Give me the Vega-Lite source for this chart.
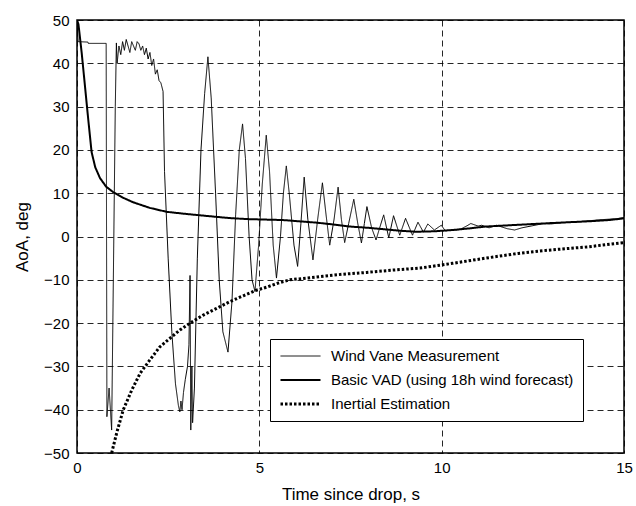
{
  "$schema": "https://vega.github.io/schema/vega-lite/v6.json",
  "width": 547,
  "height": 433,
  "autosize": "none",
  "padding": {"left": 77, "top": 20, "right": 12, "bottom": 53},
  "background": "white",
  "config": {
    "font": "Liberation Sans",
    "view": {"stroke": "black", "strokeWidth": 1.5},
    "axis": {
      "domain": false,
      "ticks": false,
      "grid": true,
      "gridColor": "black",
      "gridDash": [6, 4],
      "gridWidth": 1,
      "gridOpacity": 0.85,
      "labelFont": "Liberation Sans",
      "labelFontSize": 15,
      "labelColor": "black",
      "titleFont": "Liberation Sans",
      "titleFontSize": 17,
      "titleFontWeight": "normal",
      "titleColor": "black"
    },
    "legend": {
      "labelFont": "Liberation Sans",
      "labelFontSize": 15,
      "labelColor": "black",
      "labelLimit": 400
    }
  },
  "datasets": {
    "vane": [
      {"t": 0, "v": 50}, {"t": 0.03, "v": 45}, {"t": 0.3, "v": 44.9}, {"t": 0.31, "v": 44.6}, {"t": 0.8, "v": 44.6},
      {"t": 0.82, "v": -41.6}, {"t": 0.88, "v": -35}, {"t": 0.95, "v": -44.7}, {"t": 1.05, "v": 30}, {"t": 1.08, "v": 44.7},
      {"t": 1.1, "v": 40}, {"t": 1.15, "v": 44}, {"t": 1.2, "v": 42}, {"t": 1.25, "v": 45}, {"t": 1.3, "v": 43},
      {"t": 1.35, "v": 45.5}, {"t": 1.4, "v": 44}, {"t": 1.45, "v": 42.5}, {"t": 1.5, "v": 45}, {"t": 1.55, "v": 44},
      {"t": 1.6, "v": 43}, {"t": 1.65, "v": 45}, {"t": 1.7, "v": 44.5}, {"t": 1.75, "v": 43}, {"t": 1.8, "v": 44},
      {"t": 1.85, "v": 42}, {"t": 1.9, "v": 43.5}, {"t": 1.95, "v": 41}, {"t": 2.0, "v": 42.5}, {"t": 2.05, "v": 39.5},
      {"t": 2.1, "v": 41}, {"t": 2.15, "v": 37.5}, {"t": 2.2, "v": 38.5}, {"t": 2.25, "v": 36}, {"t": 2.3, "v": 35.5},
      {"t": 2.36, "v": 33.5}, {"t": 2.4, "v": 15}, {"t": 2.5, "v": -5}, {"t": 2.6, "v": -22}, {"t": 2.7, "v": -34},
      {"t": 2.78, "v": -39}, {"t": 2.82, "v": -40.5}, {"t": 2.85, "v": -38}, {"t": 2.88, "v": -40}, {"t": 2.92, "v": -36},
      {"t": 2.97, "v": -33}, {"t": 3.03, "v": -30}, {"t": 3.07, "v": -25}, {"t": 3.1, "v": -9}, {"t": 3.12, "v": -44.7},
      {"t": 3.15, "v": -30}, {"t": 3.17, "v": -43}, {"t": 3.22, "v": -35}, {"t": 3.3, "v": -5}, {"t": 3.4, "v": 20},
      {"t": 3.5, "v": 33}, {"t": 3.59, "v": 41.5}, {"t": 3.68, "v": 32}, {"t": 3.8, "v": 10}, {"t": 3.9, "v": -10},
      {"t": 4.0, "v": -22}, {"t": 4.14, "v": -26.7}, {"t": 4.25, "v": -15}, {"t": 4.35, "v": 5}, {"t": 4.45, "v": 20},
      {"t": 4.54, "v": 26}, {"t": 4.62, "v": 18}, {"t": 4.72, "v": 0}, {"t": 4.8, "v": -10}, {"t": 4.88, "v": -12.7},
      {"t": 4.98, "v": -2}, {"t": 5.08, "v": 12}, {"t": 5.19, "v": 23.4}, {"t": 5.28, "v": 15}, {"t": 5.38, "v": -2},
      {"t": 5.47, "v": -9.6}, {"t": 5.58, "v": 0}, {"t": 5.66, "v": 10}, {"t": 5.74, "v": 16.3}, {"t": 5.82, "v": 10},
      {"t": 5.95, "v": -2}, {"t": 6.05, "v": -6.9}, {"t": 6.14, "v": 3}, {"t": 6.23, "v": 13.7}, {"t": 6.33, "v": 4},
      {"t": 6.47, "v": -5.4}, {"t": 6.6, "v": 4}, {"t": 6.73, "v": 12.4}, {"t": 6.83, "v": 5}, {"t": 6.93, "v": -2},
      {"t": 7.05, "v": 4}, {"t": 7.16, "v": 11.4}, {"t": 7.25, "v": 4}, {"t": 7.34, "v": -1.4}, {"t": 7.45, "v": 3},
      {"t": 7.59, "v": 8.6}, {"t": 7.7, "v": 3}, {"t": 7.8, "v": -1.5}, {"t": 7.88, "v": 3}, {"t": 7.95, "v": 6.9},
      {"t": 8.08, "v": 2}, {"t": 8.2, "v": -0.8}, {"t": 8.3, "v": 2}, {"t": 8.41, "v": 5}, {"t": 8.55, "v": -0.3},
      {"t": 8.68, "v": 4.8}, {"t": 8.85, "v": 0.3}, {"t": 9.01, "v": 4.2}, {"t": 9.2, "v": 0.3}, {"t": 9.35, "v": 3.3},
      {"t": 9.5, "v": 1}, {"t": 9.62, "v": 2.9}, {"t": 9.8, "v": 1.5}, {"t": 9.99, "v": 2.6}, {"t": 10.1, "v": 1.3},
      {"t": 10.3, "v": 1.5}, {"t": 10.5, "v": 1.6}, {"t": 10.7, "v": 2.5}, {"t": 10.8, "v": 3.0}, {"t": 11.0, "v": 2.4},
      {"t": 11.1, "v": 2.6}, {"t": 11.3, "v": 2.0}, {"t": 11.5, "v": 2.6}, {"t": 11.8, "v": 1.8}, {"t": 12.0, "v": 1.5},
      {"t": 12.2, "v": 2.0}, {"t": 12.5, "v": 2.5}, {"t": 12.8, "v": 3.0}, {"t": 13.0, "v": 2.9}, {"t": 13.3, "v": 3.2},
      {"t": 13.6, "v": 3.3}, {"t": 14.0, "v": 3.6}, {"t": 14.4, "v": 3.9}, {"t": 14.8, "v": 4.1}, {"t": 15.0, "v": 4.4}
    ],
    "vad": [
      {"t": 0, "v": 50}, {"t": 0.04, "v": 49}, {"t": 0.13, "v": 42.3}, {"t": 0.22, "v": 34.6}, {"t": 0.31, "v": 26.9},
      {"t": 0.4, "v": 19.5}, {"t": 0.5, "v": 16}, {"t": 0.63, "v": 13.5}, {"t": 0.8, "v": 11.5}, {"t": 1.0, "v": 10.2},
      {"t": 1.25, "v": 9}, {"t": 1.54, "v": 7.9}, {"t": 2.0, "v": 6.6}, {"t": 2.46, "v": 5.7}, {"t": 3.0, "v": 5.2},
      {"t": 3.37, "v": 4.9}, {"t": 4.0, "v": 4.4}, {"t": 4.28, "v": 4.2}, {"t": 4.74, "v": 4.0}, {"t": 5.2, "v": 3.9},
      {"t": 5.65, "v": 3.8}, {"t": 6.1, "v": 3.5}, {"t": 6.57, "v": 3.2}, {"t": 7.0, "v": 2.8}, {"t": 7.48, "v": 2.3},
      {"t": 8.0, "v": 2.0}, {"t": 8.39, "v": 1.7}, {"t": 8.9, "v": 1.3}, {"t": 9.3, "v": 1.1}, {"t": 9.8, "v": 1.2},
      {"t": 10.3, "v": 1.5}, {"t": 10.8, "v": 1.9}, {"t": 11.2, "v": 2.3}, {"t": 12.1, "v": 2.7}, {"t": 13.0, "v": 3.1},
      {"t": 14.0, "v": 3.5}, {"t": 14.6, "v": 3.8}, {"t": 15, "v": 4.2}
    ],
    "inertial": [
      {"t": 0.95, "v": -50}, {"t": 1.1, "v": -45}, {"t": 1.27, "v": -40}, {"t": 1.5, "v": -35.5}, {"t": 1.73, "v": -31.6},
      {"t": 2.0, "v": -28.5}, {"t": 2.27, "v": -25.5}, {"t": 2.55, "v": -23.5}, {"t": 2.82, "v": -21.6}, {"t": 3.1, "v": -20},
      {"t": 3.45, "v": -18.2}, {"t": 3.83, "v": -16.6}, {"t": 4.2, "v": -15}, {"t": 4.56, "v": -13.7}, {"t": 4.92, "v": -12.4},
      {"t": 5.2, "v": -11.7}, {"t": 5.5, "v": -10.8}, {"t": 5.84, "v": -10}, {"t": 6.3, "v": -9.6}, {"t": 6.75, "v": -9.2},
      {"t": 7.3, "v": -8.7}, {"t": 7.94, "v": -8.3}, {"t": 8.6, "v": -7.8}, {"t": 9.4, "v": -7.3}, {"t": 10.3, "v": -6.2},
      {"t": 11.2, "v": -5.0}, {"t": 12.1, "v": -3.9}, {"t": 13.0, "v": -3.1}, {"t": 14.0, "v": -2.4}, {"t": 15, "v": -1.4}
    ]
  },
  "layer": [
    {
      "data": {"name": "vane"},
      "transform": [{"calculate": "'Wind Vane Measurement'", "as": "series"}],
      "mark": {"type": "line", "clip": true},
      "encoding": {
        "x": {"field": "t", "type": "quantitative"},
        "y": {"field": "v", "type": "quantitative"},
        "color": {"field": "series"},
        "strokeDash": {"field": "series"},
        "strokeWidth": {"field": "series"}
      }
    },
    {
      "data": {"name": "vad"},
      "transform": [{"calculate": "'Basic VAD (using 18h wind forecast)'", "as": "series"}],
      "mark": {"type": "line", "clip": true},
      "encoding": {
        "x": {"field": "t", "type": "quantitative"},
        "y": {"field": "v", "type": "quantitative"},
        "color": {"field": "series"},
        "strokeDash": {"field": "series"},
        "strokeWidth": {"field": "series"}
      }
    },
    {
      "data": {"name": "inertial"},
      "transform": [{"calculate": "'Inertial Estimation'", "as": "series"}],
      "mark": {"type": "line", "clip": true, "strokeCap": "butt"},
      "encoding": {
        "x": {"field": "t", "type": "quantitative"},
        "y": {"field": "v", "type": "quantitative"},
        "color": {"field": "series"},
        "strokeDash": {"field": "series"},
        "strokeWidth": {"field": "series"}
      }
    }
  ],
  "encoding": {
    "x": {
      "field": "t", "type": "quantitative",
      "scale": {"domain": [0, 15], "nice": false, "zero": false},
      "axis": {"values": [0, 5, 10, 15], "title": "Time since drop, s", "labelPadding": 7, "titlePadding": 11, "labelFlush": false}
    },
    "y": {
      "field": "v", "type": "quantitative",
      "scale": {"domain": [-50, 50], "nice": false},
      "axis": {"values": [-50, -40, -30, -20, -10, 0, 10, 20, 30, 40, 50], "title": "AoA, deg", "labelPadding": 8, "titlePadding": 12}
    },
    "color": {
      "field": "series", "type": "nominal",
      "scale": {"domain": ["Wind Vane Measurement", "Basic VAD (using 18h wind forecast)", "Inertial Estimation"], "range": ["black", "black", "black"]},
      "legend": {
        "title": null, "orient": "none", "legendX": 193, "legendY": 319,
        "strokeColor": "black", "fillColor": "white", "padding": 9,
        "symbolType": "stroke", "symbolSize": 1600, "clipHeight": 16, "rowPadding": 8, "labelOffset": 9
      }
    },
    "strokeDash": {
      "field": "series", "type": "nominal",
      "scale": {"domain": ["Wind Vane Measurement", "Basic VAD (using 18h wind forecast)", "Inertial Estimation"], "range": [[1, 0], [1, 0], [2.5, 2]]},
      "legend": {
        "title": null, "orient": "none", "legendX": 193, "legendY": 319,
        "strokeColor": "black", "fillColor": "white", "padding": 9,
        "symbolType": "stroke", "symbolSize": 1600, "clipHeight": 16, "rowPadding": 8, "labelOffset": 9
      }
    },
    "strokeWidth": {
      "field": "series", "type": "nominal",
      "scale": {"domain": ["Wind Vane Measurement", "Basic VAD (using 18h wind forecast)", "Inertial Estimation"], "range": [1, 3, 2.8]},
      "legend": {
        "title": null, "orient": "none", "legendX": 193, "legendY": 319,
        "strokeColor": "black", "fillColor": "white", "padding": 9,
        "symbolType": "stroke", "symbolSize": 1600, "clipHeight": 16, "rowPadding": 8, "labelOffset": 9
      }
    }
  }
}
